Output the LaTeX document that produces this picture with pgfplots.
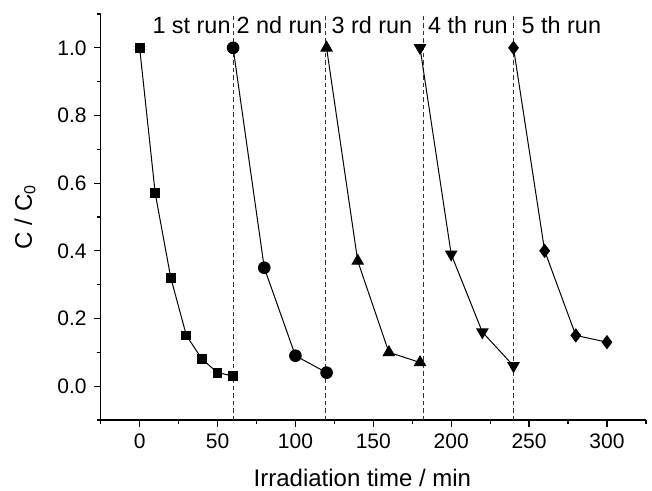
\documentclass[border=0pt]{standalone}
\usepackage{fontspec}
\setmainfont{Liberation Sans}
\usepackage{pgfplots}
\pgfplotsset{compat=1.18}

\begin{document}
\begin{tikzpicture}
\begin{axis}[
    scale only axis,
    width=272.6pt,
    height=203pt,
    xmin=-25, xmax=325,
    ymin=-0.1, ymax=1.1,
    axis x line*=bottom,
    axis y line*=left,
    axis line style={line width=0.7pt},
    xtick={0,50,...,300},
    minor xtick={-25,25,75,125,175,225,275,325},
    ytick={0,0.2,...,1.0},
    minor ytick={-0.1,0.1,0.3,0.5,0.7,0.9,1.1},
    tick align=outside,
    major tick length=3.5pt,
    minor tick length=2pt,
    every tick/.style={black, line width=0.6pt},
    yticklabel style={/pgf/number format/.cd, fixed, fixed zerofill, precision=1},
    /pgf/number format/assume math mode=true,
    tick label style={font=\fontsize{10.5}{12}\selectfont},
    xlabel={Irradiation time / min},
    ylabel={C / C\textsubscript{0}},
    label style={font=\fontsize{12}{14}\selectfont},
    xlabel style={at={(axis description cs:0.48,-0.142)}, anchor=center},
    ylabel style={at={(axis description cs:-0.1389,0.5)}, anchor=center},
    clip=false,
]
% dashed separators
\addplot[black!80, line width=0.5pt, dash pattern=on 2.2pt off 1.5pt] coordinates {(60,-0.1)(60,1.1)};
\addplot[black!80, line width=0.5pt, dash pattern=on 2.2pt off 1.5pt] coordinates {(119.5,-0.1)(119.5,1.1)};
\addplot[black!80, line width=0.5pt, dash pattern=on 2.2pt off 1.5pt] coordinates {(182,-0.1)(182,1.1)};
\addplot[black!80, line width=0.5pt, dash pattern=on 2.2pt off 1.5pt] coordinates {(240,-0.1)(240,1.1)};

\addplot[black, line width=0.5pt, mark=square*, mark size=2.2pt] coordinates {
    (0,1.0)(10,0.57)(20,0.32)(30,0.15)(40,0.08)(50,0.04)(60,0.03)};
\addplot[black, line width=0.5pt, mark=*, mark size=2.9pt] coordinates {
    (60,1.0)(80,0.35)(100,0.09)(120,0.04)};
\addplot[black, line width=0.5pt, mark=triangle*, mark size=3.2pt] coordinates {
    (120,1.0)(140,0.37)(160,0.10)(180,0.07)};
\addplot[black, line width=0.5pt, mark=triangle*, mark size=3.2pt, mark options={rotate=180}] coordinates {
    (180,1.0)(200,0.39)(220,0.16)(240,0.06)};
\addplot[black, line width=0.5pt, mark=diamond*, mark size=3.2pt] coordinates {
    (240,1.0)(260,0.40)(280,0.15)(300,0.13)};

\node[anchor=west, inner sep=0pt, font=\fontsize{11.7}{14}\selectfont] at (axis cs:8,1.066) {1 st run};
\node[anchor=west, inner sep=0pt, font=\fontsize{11.7}{14}\selectfont] at (axis cs:62,1.066) {2 nd run};
\node[anchor=west, inner sep=0pt, font=\fontsize{11.7}{14}\selectfont] at (axis cs:123,1.066) {3 rd run};
\node[anchor=west, inner sep=0pt, font=\fontsize{11.7}{14}\selectfont] at (axis cs:185,1.066) {4 th run};
\node[anchor=west, inner sep=0pt, font=\fontsize{11.7}{14}\selectfont] at (axis cs:245,1.066) {5 th run};
\end{axis}
\pgfresetboundingbox
\path[use as bounding box] (-50.35pt,-35.5pt) rectangle (275.65pt,210pt);
\end{tikzpicture}
\end{document}
